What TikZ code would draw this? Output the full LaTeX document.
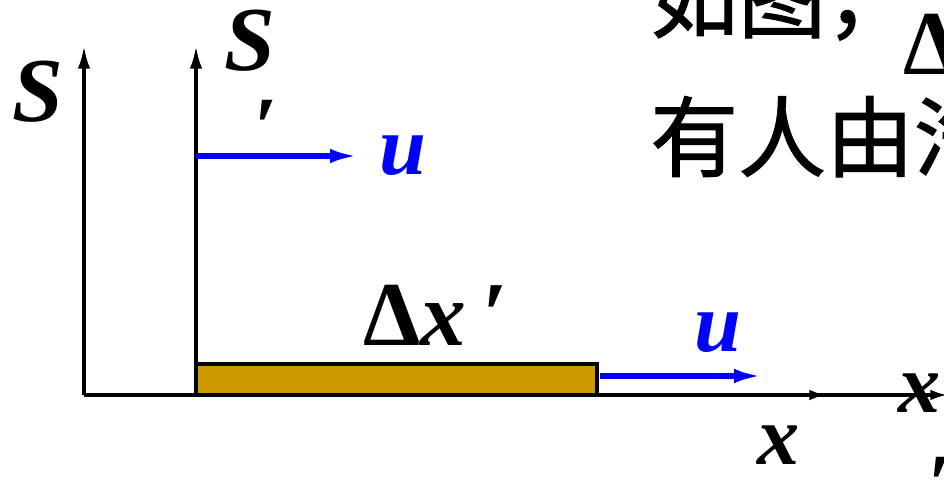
\documentclass[tikz,border=0pt]{standalone}
\usepackage{fontspec}
\setmainfont{Liberation Serif}
\newfontfamily\cjk[FakeBold=1.2]{Noto Sans CJK SC}
\usetikzlibrary{arrows.meta}
\definecolor{rodgold}{HTML}{CC9900}
\definecolor{ublue}{HTML}{0000FF}
\tikzset{
  axisline/.style={line width=2.5pt, -{Latex[length=14pt,width=7pt]}},
  xaxisline/.style={line width=2.5pt, -{Latex[length=10pt,width=6pt]}},
  velarr/.style={draw=ublue, line width=3.2pt, -{Latex[length=17pt,width=8pt]}},
  rod/.style={draw=black, fill=rodgold, line width=2.4pt, inner sep=0pt,
              minimum width=80.2mm, minimum height=6.2mm},
  sym/.style={font=\fontsize{48}{48}\selectfont\bfseries\itshape, inner sep=0pt},
  bigsym/.style={font=\fontsize{52}{52}\selectfont\bfseries\itshape, inner sep=0pt},
  vsym/.style={sym, text=ublue},
  cjkline/.style={font=\cjk\fontsize{50}{50}\selectfont, inner sep=0pt, anchor=base west},
}
\begin{document}
\begin{tikzpicture}[x=0.2mm, y=-0.2mm]
  \useasboundingbox (0,0) rectangle (944,483);
  \clip (0,0) rectangle (944,483);

  % rod at rest in S'
  \node[rod] (rod) at (396.5,379.5) {};

  % frames S and S'
  \coordinate (o)   at (84,395);
  \coordinate (oy)  at (84,44);
  \coordinate (ox)  at (827,395);
  \coordinate (op)  at (196,395);
  \coordinate (opy) at (196,44);
  \coordinate (opx) at (948,395);
  \draw[xaxisline] (op) -- (opx);
  \draw[xaxisline] (o) -- (ox);
  \draw[axisline] (o) -- (oy);
  \draw[axisline] (op) -- (opy);

  % velocities
  \coordinate (ua) at (196,156);
  \coordinate (ub) at (360,156);
  \coordinate (uc) at (600,376);
  \coordinate (ud) at (764,376);
  \draw[velarr] (ua) -- (ub);
  \draw[velarr] (uc) -- (ud);

  % labels
  \node[bigsym] (lS)   at (38,92)   {S};
  \node[bigsym] (lSp)  at (250,41)  {S};
  \node[sym]    (lSpp) at (265,128) {′};
  \node[vsym]   (lu1)  at (403,156) {u};
  \node[vsym]   (lu2)  at (718,333) {u};
  \node[sym]    (lx)   at (779,445) {x};
  \node[sym]    (lxp)  at (920,393) {x};
  \node[sym, anchor=north west] (lxpp) at (927,457) {′};
  \node[bigsym, anchor=base west] (ldx) at (363,345) {\upshape Δ\itshape x\,′};

  % text of the slide
  \node[cjkline] (t1) at (650,31)  {如图，};
  \node[bigsym, anchor=base west] (t1d) at (903,75) {\upshape Δ};
  \node[cjkline] (t2) at (650,170) {有人由汽};
\end{tikzpicture}
\end{document}
